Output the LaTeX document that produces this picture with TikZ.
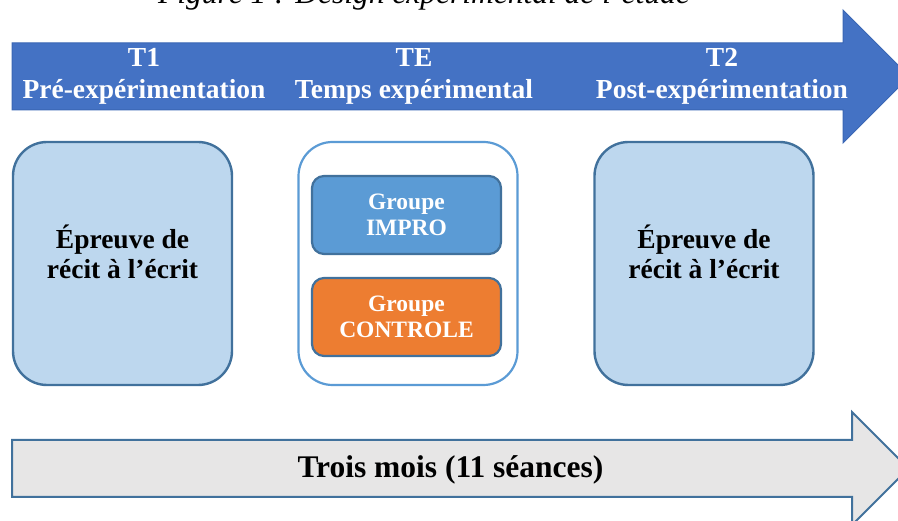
\documentclass[tikz,border=0pt]{standalone}
\usepackage{fontspec}
\setmainfont{Liberation Serif}
\definecolor{topblue}{HTML}{4472C4}
\definecolor{topedge}{HTML}{3A66B4}
\definecolor{boxfill}{HTML}{BDD7EE}
\definecolor{boxline}{HTML}{41719C}
\definecolor{lightline}{HTML}{5B9BD5}
\definecolor{orangefill}{HTML}{ED7D31}
\definecolor{grayfill}{HTML}{E7E6E6}
\begin{document}
\begin{tikzpicture}[x=1pt,y=-1pt,
  bigbox/.style={rectangle, rounded corners=34pt, line width=2.4pt, minimum width=219pt, minimum height=243pt, inner sep=0pt},
  grpbox/.style={rectangle, rounded corners=12pt, line width=2.2pt, draw=boxline, minimum width=189pt, minimum height=78pt, inner sep=0pt},
  bartext/.style={text=white, font=\bfseries\fontsize{27.5}{32}\selectfont, align=center, inner sep=0pt},
  boxtext/.style={text=black, font=\bfseries\fontsize{27.5}{30}\selectfont, align=center, inner sep=0pt},
  grptext/.style={text=white, font=\bfseries\fontsize{23.5}{26}\selectfont, align=center, inner sep=0pt}]
\useasboundingbox (0,0) rectangle (898,521);
\clip (0,0) rectangle (898,521);
% caption (cut at top)
\node[anchor=base, inner sep=0pt, font=\itshape\fontsize{31.5}{36}\selectfont] (cap) at (424,4) {Figure 1 : Design expérimental de l’étude};
% top arrow
\path[fill=topblue, draw=topedge, line width=1pt] (12,43) -- (843,43) -- (843,10) -- (909.5,76.5) -- (843,143) -- (843,110) -- (12,110) -- cycle;
\node[bartext] (t1) at (144,76) {T1\\Pré-expérimentation};
\node[bartext] (te) at (414,76) {TE\\Temps expérimental};
\node[bartext] (t2) at (722,76) {T2\\Post-expérimentation};
% boxes
\node[bigbox, fill=boxfill, draw=boxline] (pre) at (122.5,263.5) {};
\node[boxtext] (pretext) at (122.5,252) {Épreuve de\\récit à l’écrit};
\node[bigbox, fill=white, draw=lightline, line width=2.2pt] (mid) at (408,263.5) {};
\node[grpbox, fill=lightline] (impro) at (406.5,215) {};
\node[grptext] (improtext) at (406.5,215) {Groupe\\IMPRO};
\node[grpbox, fill=orangefill] (ctrl) at (406.5,317) {};
\node[grptext] (ctrltext) at (406.5,317) {Groupe\\CONTROLE};
\node[bigbox, fill=boxfill, draw=boxline] (post) at (704,263.5) {};
\node[boxtext] (posttext) at (704,252) {Épreuve de\\récit à l’écrit};
% bottom arrow
\path[fill=grayfill, draw=boxline, line width=2pt] (12,440) -- (852,440) -- (852,412) -- (908.5,468.5) -- (852,525) -- (852,497) -- (12,497) -- cycle;
\node[text=black, font=\bfseries\fontsize{31.5}{36}\selectfont, inner sep=0pt] (dur) at (450.5,470) {Trois mois (11 séances)};
\end{tikzpicture}
\end{document}
